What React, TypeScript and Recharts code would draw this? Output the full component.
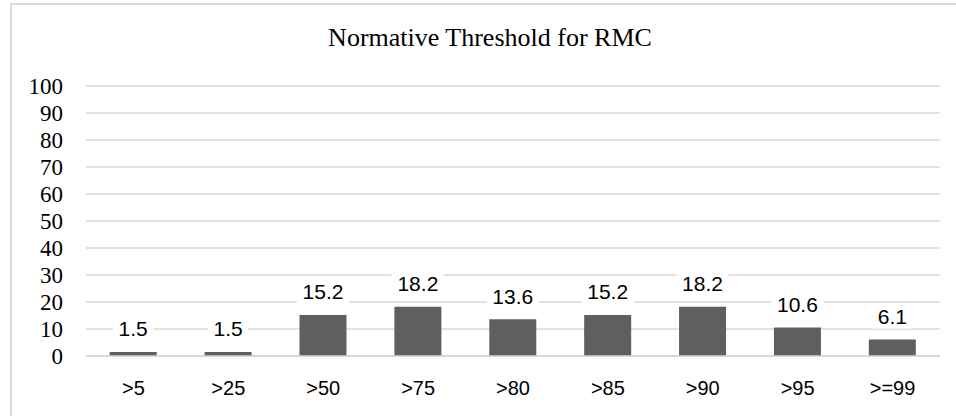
import React from "react";
import { BarChart, Bar, XAxis, YAxis, CartesianGrid, LabelList } from "recharts";

const categories = [">5", ">25", ">50", ">75", ">80", ">85", ">90", ">95", ">=99"];
const values = [1.5, 1.5, 15.2, 18.2, 13.6, 15.2, 18.2, 10.6, 6.1];
const yTicks = [0, 10, 20, 30, 40, 50, 60, 70, 80, 90, 100];
const title = "Normative Threshold for RMC";

const data = categories.map((c, i) => ({ name: c, value: values[i] }));

const SANS = "'Liberation Sans', Arial, sans-serif";
const SERIF = "'Liberation Serif', 'Times New Roman', serif";

const DataLabel = (props: any) => {
  const { x, y, width, value } = props;
  const cx = Number(x) + Number(width) / 2;
  const cy = Number(y) - 23;
  const txt = String(value);
  const w = txt.length * 11.5 + 6;
  return (
    <g>
      <rect x={cx - w / 2} y={cy - 12} width={w} height={24} fill="#ffffff" />
      <text x={cx} y={cy + 7.5} textAnchor="middle" fontFamily={SANS} fontSize={21} fill="#000000">
        {txt}
      </text>
    </g>
  );
};

const XTick = (props: any) => {
  const { x, y, payload } = props;
  return (
    <text x={x} y={Number(y) + 14.5} textAnchor="middle" fontFamily={SANS} fontSize={20} fill="#000000">
      {payload.value}
    </text>
  );
};

const YTick = (props: any) => {
  const { x, y, payload } = props;
  return (
    <text x={x} y={Number(y) + 7.5} textAnchor="end" fontFamily={SERIF} fontSize={23} fill="#000000">
      {payload.value}
    </text>
  );
};

export default function App() {
  return (
    <div style={{ position: "absolute", left: 0, top: 0, width: 956, height: 416, background: "#fff" }}>
      <div
        style={{
          position: "absolute",
          left: 10,
          top: 3,
          width: 946,
          height: 413,
          borderTop: "2px solid #d9d9d9",
          borderLeft: "2px solid #d9d9d9",
          boxSizing: "border-box",
        }}
      />
      <div style={{ position: "absolute", left: 0, top: 0 }}>
        <BarChart
          width={956}
          height={416}
          data={data}
          margin={{ top: 86, right: 16, bottom: 30, left: 0 }}
          barCategoryGap="25%"
        >
          <text x={490} y={46} textAnchor="middle" fontFamily={SERIF} fontSize={26} fill="#000000">
            {title}
          </text>
          <CartesianGrid vertical={false} stroke="#d9d9d9" strokeWidth={1.5} />
          <XAxis
            dataKey="name"
            height={30}
            axisLine={{ stroke: "#c9d6ea", strokeWidth: 1.5 }}
            tickLine={false}
            tickSize={0}
            tickMargin={24}
            tick={XTick}
          />
          <YAxis
            width={86}
            domain={[0, 100]}
            ticks={yTicks}
            interval={0}
            axisLine={false}
            tickLine={false}
            tickSize={0}
            tickMargin={23}
            tick={YTick}
          />
          <Bar dataKey="value" fill="#5f5f5f" isAnimationActive={false}>
            <LabelList dataKey="value" content={DataLabel} />
          </Bar>
        </BarChart>
      </div>
    </div>
  );
}
